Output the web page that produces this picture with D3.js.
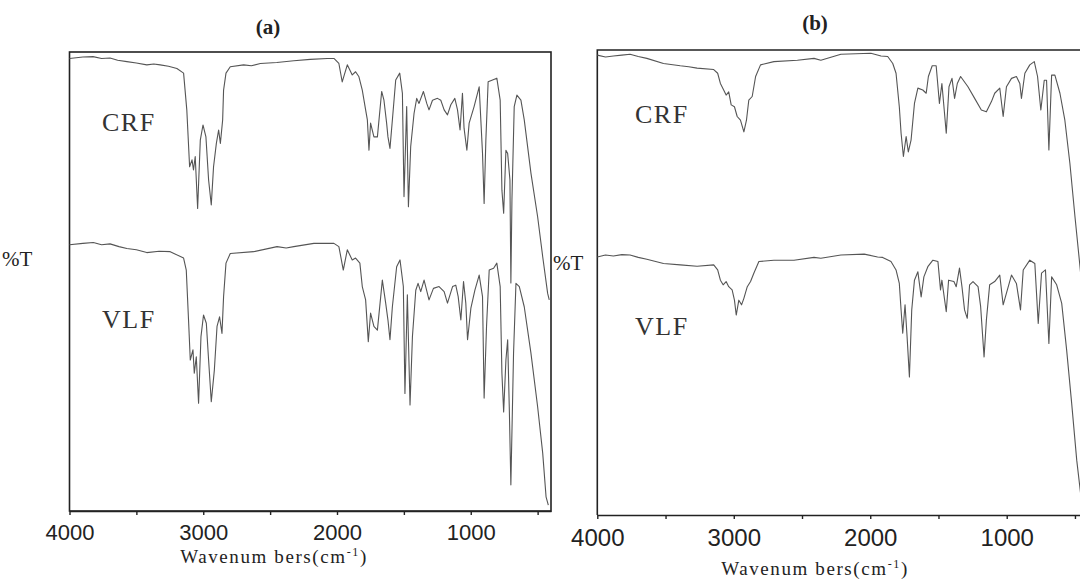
<!DOCTYPE html>
<html>
<head>
<meta charset="utf-8">
<script src="https://cdn.jsdelivr.net/npm/d3@7"></script>
<style>
  html, body { margin: 0; padding: 0; background: #fff; }
  svg { display: block; }
</style>
</head>
<body>
<svg id="chart" width="1080" height="583"></svg>
<script>
// ---------------- DATA ----------------
const tickValues = [4000, 3500, 3000, 2500, 2000, 1500, 1000, 500];
const tickLabels = [4000, 3000, 2000, 1000];
const panelTitles = ["(a)", "(b)"];
const sampleNames = ["CRF", "VLF"];
const yAxisLabel = "%T";
const xAxisLabel = "Wavenum bers(cm";
const xAxisUnitExp = "-1";

// Panel (a) – CRF trace: [wavenumber cm-1, %T (offset)]
const aCRF = [[4000,98.6],[3900,98.9],[3824,99.0],[3760,98.6],[3697,98.7],[3640,98.2],[3571,97.9],[3500,97.6],[3422,97.2],[3370,97.4],[3322,97.2],[3260,96.9],[3197,96.4],[3147,95.4],
  [3123,87.4],[3102,75.0],[3084,76.5],[3073,74.3],[3060,77.2],[3042,65.9],[3022,80.8],[3002,84.1],[2980,81.5],
  [2960,72.1],[2940,66.7],[2923,75.0],[2902,80.1],[2885,83.0],[2872,80.1],[2855,85.2],[2848,91.7],[2830,95.4],
  [2798,96.8],[2698,97.2],[2640,97.0],[2573,97.5],[2450,97.7],[2323,98.1],[2200,98.4],[2073,98.6],[2023,98.6],[1986,97.5],[1961,93.5],[1923,97.2],
  [1886,95.0],[1861,95.7],[1836,94.6],[1811,91.7],[1786,87.4],[1773,85.2],[1761,78.6],[1749,84.5],[1724,81.5],
  [1698,81.5],[1666,91.4],[1649,89.5],[1629,84.5],[1619,81.5],[1604,79.0],[1586,85.2],[1561,93.9],[1531,95.4],
  [1511,91.0],[1499,68.5],[1479,88.1],[1466,66.3],[1449,79.4],[1424,86.6],[1404,89.9],[1387,88.8],[1354,91.4],
  [1329,88.8],[1312,87.4],[1286,89.5],[1249,89.9],[1224,89.5],[1199,87.4],[1174,86.3],[1149,88.5],[1119,89.9],
  [1099,87.4],[1080,83.0],[1062,91.0],[1050,83.4],[1029,78.6],[1012,84.5],[975,88.1],[937,92.4],[912,77.9],
  [900,67.0],[887,80.8],[870,93.5],[837,93.9],[805,94.3],[780,89.5],[767,69.9],[754,64.9],[737,78.6],[724,77.9],
  [707,72.1],[700,49.7],[692,67.8],[675,88.1],[655,90.6],[625,89.5],[600,85.2],[550,73.6],[500,64.1],[462,55.4],
  [425,47.4],[413,46.0]];

// Panel (a) – VLF trace
const aVLF = [[4000,58.0],[3900,58.3],[3822,58.5],[3760,58.0],[3697,58.2],[3630,57.6],[3571,57.2],[3500,56.9],[3422,56.3],[3330,56.6],[3247,56.5],[3147,55.1],[3127,52.5],
  [3110,41.6],[3097,32.9],[3077,35.1],[3067,30.0],[3052,33.6],[3035,23.5],[3017,38.0],[2998,42.7],[2977,40.9],
  [2960,32.9],[2940,23.8],[2917,30.7],[2897,40.2],[2878,42.3],[2860,38.7],[2848,46.7],[2830,54.0],[2798,56.1],
  [2623,56.5],[2448,57.6],[2380,57.3],[2323,57.6],[2173,58.3],[2023,58.3],[1986,57.6],[1953,52.5],[1923,56.9],[1886,54.7],
  [1861,55.1],[1829,54.0],[1811,48.9],[1786,46.0],[1766,36.9],[1749,43.1],[1724,40.2],[1698,39.4],[1661,50.3],
  [1636,45.3],[1619,41.6],[1604,37.3],[1586,44.5],[1554,53.2],[1529,54.7],[1504,48.9],[1492,25.6],[1474,47.1],
  [1454,23.1],[1436,38.0],[1411,48.1],[1394,49.6],[1374,47.8],[1349,50.3],[1312,46.0],[1279,48.5],[1237,48.9],
  [1199,47.8],[1174,45.3],[1136,48.9],[1112,49.2],[1094,46.7],[1074,41.6],[1054,50.0],[1037,45.3],[1024,37.3],
  [999,44.2],[969,48.1],[937,51.4],[912,46.7],[900,24.6],[882,40.2],[862,52.5],[829,52.9],[805,54.0],[780,48.9],
  [767,30.0],[754,21.6],[737,32.9],[724,37.3],[712,22.7],[700,5.7],[680,34.4],[662,49.6],[637,48.9],[600,44.5],
  [550,34.4],[500,22.7],[462,12.6],[437,3.1],[420,1.3]];

// Panel (b) – CRF trace
const bCRF = [[4000,98.9],[3940,98.5],[3882,98.7],[3820,98.9],[3760,99.1],[3700,98.6],[3637,98.2],[3515,97.1],[3392,96.6],[3330,96.4],[3269,96.1],[3147,95.8],
  [3118,95.0],[3098,92.8],[3074,91.4],[3056,90.3],[3037,91.0],[3019,88.2],[2995,87.8],[2975,85.7],[2951,84.9],
  [2926,82.4],[2907,84.9],[2890,89.2],[2865,90.0],[2840,94.3],[2804,96.8],[2706,97.5],[2534,97.8],[2412,98.2],
  [2362,97.8],[2215,99.1],[1995,99.3],[1921,98.7],[1872,98.6],[1835,97.1],[1811,95.0],[1787,87.8],[1774,82.1],
  [1757,77.1],[1737,81.4],[1721,78.1],[1701,80.6],[1676,88.5],[1651,91.8],[1615,91.4],[1590,90.7],[1574,94.3],
  [1546,96.6],[1517,96.6],[1493,88.5],[1475,92.8],[1460,87.8],[1443,82.1],[1423,92.1],[1401,93.9],[1382,89.6],
  [1362,92.8],[1338,94.3],[1284,92.1],[1235,89.6],[1186,87.1],[1149,86.7],[1112,88.9],[1088,90.7],[1051,91.8],
  [1026,85.7],[1002,92.1],[965,93.9],[929,94.3],[904,92.8],[892,89.6],[867,95.0],[831,96.8],[798,97.5],[774,94.3],
  [750,87.1],[725,93.5],[708,93.5],[691,78.5],[671,94.6],[647,94.6],[610,90.7],[574,84.9],[537,75.6],[500,64.2],
  [463,53.4],[400,34.0]];

// Panel (b) – VLF trace
const bVLF = [[4000,55.5],[3940,55.9],[3882,55.7],[3820,56.0],[3760,55.9],[3700,55.4],[3637,55.0],[3515,54.1],[3392,53.8],[3269,53.5],[3147,53.8],
  [3118,52.7],[3098,50.5],[3078,49.5],[3056,50.2],[3037,49.1],[3012,48.4],[2995,46.2],[2982,43.0],[2963,46.2],
  [2943,45.2],[2926,46.6],[2901,49.1],[2877,50.2],[2853,52.0],[2816,54.5],[2706,54.8],[2559,54.8],[2412,55.4],
  [2362,55.2],[2215,55.9],[2044,56.1],[1946,55.5],[1909,55.4],[1848,54.5],[1811,52.7],[1787,49.8],[1774,44.1],
  [1762,39.1],[1745,45.2],[1730,38.3],[1713,29.7],[1696,44.1],[1676,50.5],[1651,52.3],[1627,46.9],[1607,51.2],
  [1578,53.4],[1541,54.8],[1504,54.5],[1485,48.4],[1475,50.5],[1443,43.7],[1426,50.5],[1387,50.2],[1370,49.1],
  [1346,53.1],[1328,49.1],[1309,44.1],[1289,42.3],[1272,49.5],[1247,50.2],[1210,49.1],[1191,44.8],[1166,34.0],
  [1149,41.9],[1125,49.5],[1088,50.2],[1051,51.6],[1026,45.2],[1002,47.7],[965,51.6],[929,49.8],[899,44.1],
  [879,52.7],[831,54.8],[794,54.1],[769,41.2],[745,52.0],[716,52.7],[691,36.9],[671,51.2],[634,49.5],[597,45.5],
  [561,35.5],[524,24.0],[487,11.8],[450,2.5],[430,1.0]];

// ---------------- DRAWING ----------------
const svg = d3.select("#chart");
const ink = "#222";
const traceColor = "#555";

const panels = [
  { key: "a", title: panelTitles[0], titleX: 268, titleY: 34,
    x0: 69.5, x1: 551, yTop: 52, yBot: 511, tickFont: 22, tickLabelY: 29,
    traces: [aCRF, aVLF],
    nameX: 102, nameY: [131, 328],
    pctX: 2, pctY: 266,
    axTitleX: 274, axTitleY: 563, fullBox: true },
  { key: "b", title: panelTitles[1], titleX: 815, titleY: 30,
    x0: 597.3, x1: 1088.6, yTop: 50, yBot: 515, tickFont: 24, tickLabelY: 31,
    traces: [bCRF, bVLF],
    nameX: 635, nameY: [123, 335],
    pctX: 553, pctY: 270,
    axTitleX: 815, axTitleY: 575, fullBox: false }
];

panels.forEach(p => {
  const x = d3.scaleLinear().domain([4000, 400]).range([p.x0, p.x1]);
  const y = d3.scaleLinear().domain([0, 100]).range([p.yBot, p.yTop]);
  const g = svg.append("g").attr("class", "panel-" + p.key);

  // frame
  if (p.fullBox) {
    g.append("rect")
      .attr("x", p.x0).attr("y", p.yTop)
      .attr("width", p.x1 - p.x0).attr("height", p.yBot - p.yTop)
      .attr("fill", "none").attr("stroke", ink).attr("stroke-width", 1.6);
  } else {
    g.append("path")
      .attr("d", `M${p.x1},${p.yTop}H${p.x0}V${p.yBot}`)
      .attr("fill", "none").attr("stroke", ink).attr("stroke-width", 1.6);
  }

  // traces
  const line = d3.line().x(d => x(d[0])).y(d => y(d[1]));
  p.traces.forEach(tr => {
    g.append("path").datum(tr)
      .attr("d", line)
      .attr("fill", "none")
      .attr("stroke", traceColor)
      .attr("stroke-width", 1.1)
      .attr("stroke-linejoin", "round");
  });

  // x axis
  const axis = d3.axisBottom(x)
    .tickValues(tickValues)
    .tickSize(4)
    .tickSizeOuter(0)
    .tickFormat(d => tickLabels.includes(d) ? String(d) : "");
  const ax = g.append("g").attr("transform", `translate(0,${p.yBot})`).call(axis);
  ax.select(".domain").attr("stroke", ink).attr("stroke-width", 1.6);
  ax.selectAll(".tick line").attr("stroke", ink).attr("stroke-width", 1.4);
  ax.selectAll(".tick text")
    .attr("y", p.tickLabelY).attr("dy", 0)
    .attr("fill", ink)
    .style("font-family", "'Liberation Sans', Arial, sans-serif")
    .style("font-size", p.tickFont + "px");

  // axis title with superscript
  const t = g.append("text")
    .attr("x", p.axTitleX).attr("y", p.axTitleY)
    .attr("text-anchor", "middle")
    .attr("fill", ink)
    .style("font-family", "'Liberation Serif', 'Times New Roman', serif")
    .style("font-size", "19px")
    .style("letter-spacing", "1.6px");
  t.append("tspan").text(xAxisLabel);
  t.append("tspan").attr("dy", -7).style("font-size", "12px").text(xAxisUnitExp);
  t.append("tspan").attr("dy", 7).text(")");

  // panel title
  g.append("text")
    .attr("x", p.titleX).attr("y", p.titleY)
    .attr("text-anchor", "middle")
    .attr("fill", ink)
    .style("font-family", "'Liberation Serif', 'Times New Roman', serif")
    .style("font-weight", "bold")
    .style("font-size", "21px")
    .text(p.title);

  // sample names
  sampleNames.forEach((n, i) => {
    g.append("text")
      .attr("x", p.nameX).attr("y", p.nameY[i])
      .attr("fill", "#333")
      .style("font-family", "'Liberation Serif', 'Times New Roman', serif")
      .style("font-size", "26px")
      .style("letter-spacing", "1.5px")
      .text(n);
  });

  // %T label
  g.append("text")
    .attr("x", p.pctX).attr("y", p.pctY)
    .attr("fill", ink)
    .style("font-family", "'Liberation Serif', 'Times New Roman', serif")
    .style("font-size", "21px")
    .text(yAxisLabel);
});
</script>
</body>
</html>
